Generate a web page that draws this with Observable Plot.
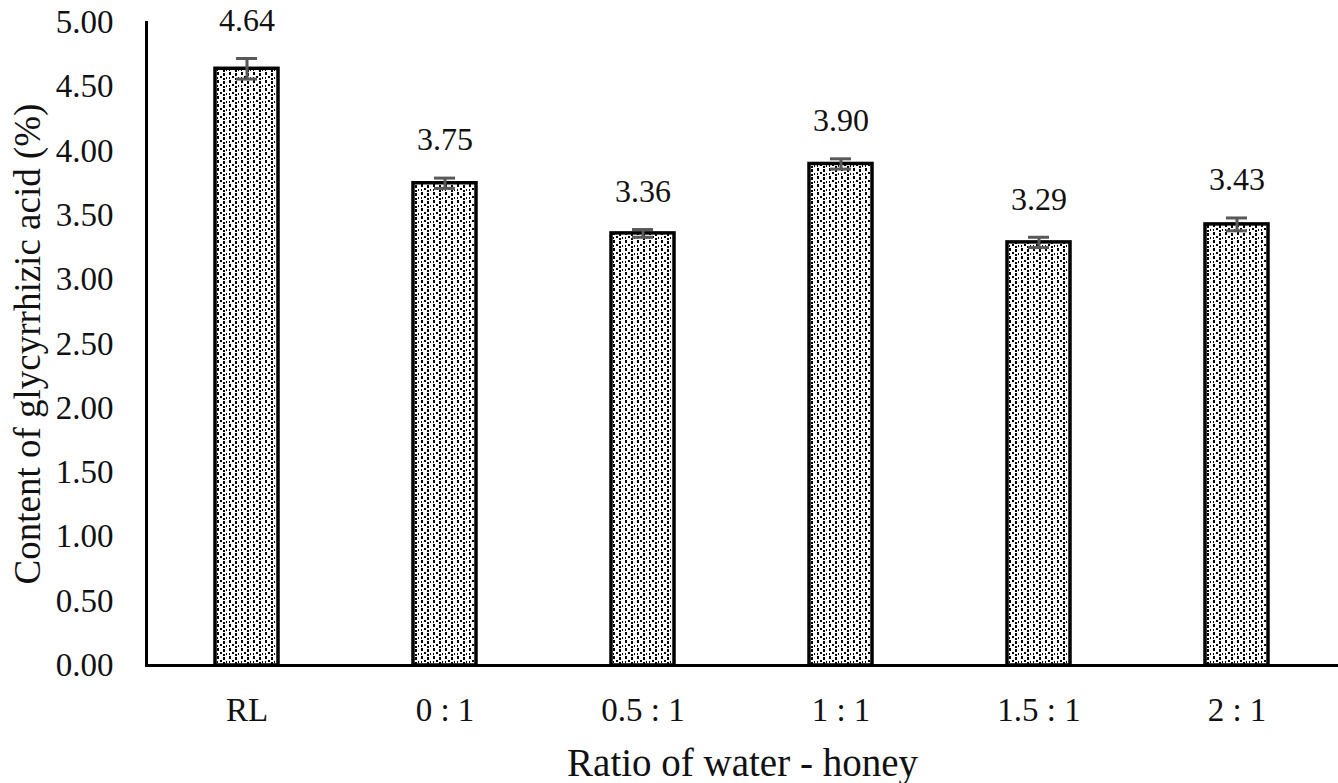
<!DOCTYPE html>
<html>
<head>
<meta charset="utf-8">
<script src="https://cdn.jsdelivr.net/npm/d3@7"></script>
<script src="https://cdn.jsdelivr.net/npm/@observablehq/plot@0.6"></script>
<style>
  html, body { margin: 0; padding: 0; background: #fff; }
  #chart { width: 1338px; height: 783px; font-family: "Liberation Serif", "Times New Roman", "DejaVu Serif", serif; }
</style>
</head>
<body>
<div id="chart"></div>
<script>
const categories = ["RL", "0 : 1", "0.5 : 1", "1 : 1", "1.5 : 1", "2 : 1"];
const values = [4.64, 3.75, 3.36, 3.90, 3.29, 3.43];
const errors = [0.08, 0.04, 0.03, 0.04, 0.04, 0.05];
const valueLabels = ["4.64", "3.75", "3.36", "3.90", "3.29", "3.43"];
const yTicks = [0, 0.5, 1, 1.5, 2, 2.5, 3, 3.5, 4, 4.5, 5];

const data = categories.map((c, i) => ({cat: c, v: values[i], e: errors[i], label: valueLabels[i]}));

const FF = "Liberation Serif, Times New Roman, DejaVu Serif, serif";

const plot = Plot.plot({
  width: 1338,
  height: 783,
  marginTop: 22,
  marginBottom: 118,
  marginLeft: 146,
  marginRight: 0,
  style: {fontFamily: FF, fontSize: "34px", color: "#111", background: "#fff"},
  x: {domain: categories, paddingInner: 0.68, paddingOuter: 0.34, label: null},
  y: {domain: [0, 5], label: null},
  marks: [
    Plot.barY(data, {x: "cat", y: "v", fill: "url(#dotpat)", stroke: "#000", strokeWidth: 3.5}),
    Plot.ruleX(data, {x: "cat", y1: d => d.v - d.e, y2: d => d.v + d.e, stroke: "#595959", strokeWidth: 3}),
    Plot.tickY(data, {x: "cat", y: d => d.v + d.e, stroke: "#595959", strokeWidth: 3, insetLeft: 21, insetRight: 21}),
    Plot.tickY(data, {x: "cat", y: d => d.v - d.e, stroke: "#595959", strokeWidth: 3, insetLeft: 21, insetRight: 21}),
    Plot.text(data, {x: "cat", y: d => d.v + d.e, text: "label", dy: -38, fontSize: 32, fontFamily: FF, fill: "#111"}),
    Plot.ruleY([0], {stroke: "#000", strokeWidth: 3}),
    Plot.frame({anchor: "left", stroke: "#000", strokeWidth: 3}),
    Plot.axisY({ticks: yTicks, tickSize: 0, tickPadding: 33, tickFormat: d => d.toFixed(2), fontSize: 33, fontFamily: FF, label: null}),
    Plot.axisX({tickSize: 0, tickPadding: 32, fontSize: 33, fontFamily: FF, label: null}),
    Plot.text(["Content of glycyrrhizic acid (%)"], {frameAnchor: "left", textAnchor: "middle", dx: -118, rotate: -90, fontSize: 37, fontFamily: FF, fill: "#111"}),
    Plot.text(["Ratio of water - honey"], {frameAnchor: "bottom", dy: 110, fontSize: 39, fontFamily: FF, fill: "#111"})
  ]
});

const svg = d3.select(plot);
svg.selectAll("text").style("font-family", FF);
const defs = svg.insert("defs", ":first-child");
const pat = defs.append("pattern")
  .attr("id", "dotpat")
  .attr("patternUnits", "userSpaceOnUse")
  .attr("width", 12)
  .attr("height", 8);
pat.append("rect").attr("width", 12).attr("height", 8).attr("fill", "#fff");
const dots = [[1,0,2,3],[4,4,2,2],[7,1,2,3],[10,5,1,2],[1,5,1,2],[7,6,2,2]];
dots.forEach(([x,y,w,h]) => pat.append("rect").attr("x", x).attr("y", y).attr("width", w).attr("height", h).attr("fill", "#000"));

document.getElementById("chart").appendChild(plot);
</script>
</body>
</html>
